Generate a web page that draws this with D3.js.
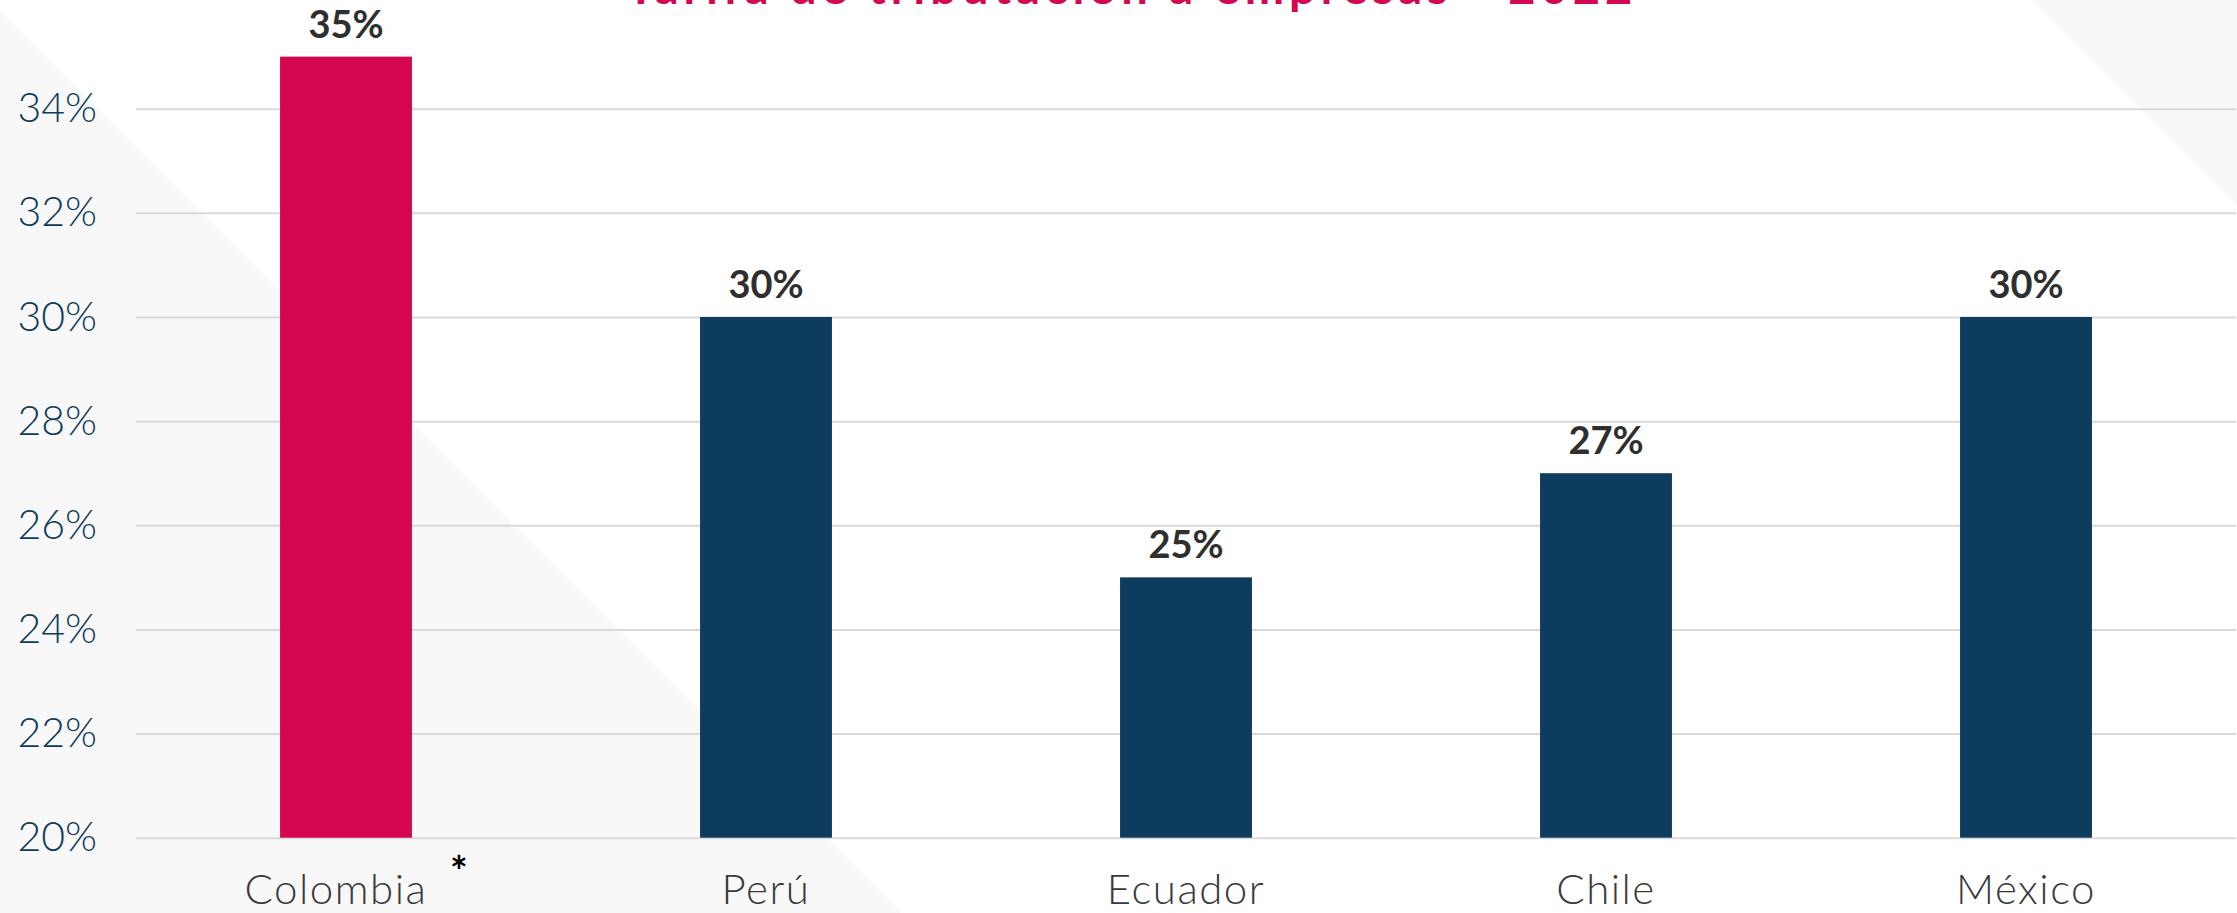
<!DOCTYPE html>
<html>
<head>
<meta charset="utf-8">
<script src="https://cdn.jsdelivr.net/npm/d3@7"></script>
<style>
  html, body { margin: 0; padding: 0; background: #ffffff; }
  svg { display: block; }
</style>
</head>
<body>
<svg id="chart" width="2237" height="913"></svg>
<script>
const titleText = 'Tarifa de tributación a empresas - 2022'
const countries = ['Colombia', 'Perú', 'Ecuador', 'Chile', 'México']
const rates = [35, 30, 25, 27, 30]
const highlighted = ['Colombia']
const yTicks = [20, 22, 24, 26, 28, 30, 32, 34]

const data = countries.map((c, i) => ({ country: c, rate: rates[i] }))

const svg = d3.select('#chart')
const W = 2237
const H = 913

// background diagonals
svg.append('path')
  .attr('d', `M0,12 L${H - 12},${H} L0,${H} Z`)
  .attr('fill', '#f8f8f8')
svg.append('path')
  .attr('d', `M2032,0 L${W},${W - 2032} L${W},0 Z`)
  .attr('fill', '#f8f8f8')

const margin = { left: 136, right: 1 }
const x = d3.scaleBand()
  .domain(countries)
  .range([margin.left, W - margin.right])
  .paddingInner(0.686)
  .paddingOuter(0.343)

const y = d3.scaleLinear()
  .domain([20, 34])
  .range([837.7, 108.7])

//* * grid + y labels
const yAxis = svg.append('g')
  .attr('transform', `translate(${margin.left},0)`)
  .call(d3.axisLeft(y)
    .tickValues(yTicks)
    .tickSize(-(W - margin.left - margin.right))
    .tickPadding(39)
    .tickFormat(d => d + '%'))
yAxis.select('.domain').remove()
yAxis.selectAll('line')
  .attr('stroke', '#d9d9d9')
  .attr('stroke-width', 2)
yAxis.selectAll('text')
  .attr('fill', '#0e3c5e')
  .style('font-family', 'Lato, sans-serif')
  .style('font-weight', 300)
  .style('font-size', '41px')

//* * bars
svg.selectAll('.bar')
  .data(data)
  .enter().append('rect')
  .attr('class', 'bar')
  .attr('x', d => x(d.country))
  .attr('y', d => y(d.rate))
  .attr('width', x.bandwidth())
  .attr('height', d => y(20) - y(d.rate))
  .attr('fill', d => highlighted.includes(d.country) ? '#d50750' : '#0e3c5e')

//* * value labels
svg.selectAll('.val')
  .data(data)
  .enter().append('text')
  .attr('class', 'val')
  .attr('x', d => x(d.country) + x.bandwidth() / 2)
  .attr('y', d => y(d.rate) - 19)
  .attr('text-anchor', 'middle')
  .attr('fill', '#2f2f2f')
  .style('font-family', 'Lato, sans-serif')
  .style('font-weight', 'bold')
  .style('font-size', '38px')
  .text(d => d.rate + '%')

//* * category labels (the footnoted one sits a bit left, as label + mark are centred together)
svg.selectAll('.cat')
  .data(data)
  .enter().append('text')
  .attr('class', 'cat')
  .attr('x', d => x(d.country) + x.bandwidth() / 2 - (highlighted.includes(d.country) ? 10 : 0))
  .attr('y', 904)
  .attr('text-anchor', 'middle')
  .attr('fill', '#3a3a3a')
  .style('font-family', 'Lato, sans-serif')
  .style('font-weight', 300)
  .style('font-size', '42px')
  .style('letter-spacing', '1.5px')
  .text(d => d.country)

// footnote mark next to Colombia
svg.append('text')
  .attr('x', x('Colombia') + x.bandwidth() / 2 + 113)
  .attr('y', 887)
  .attr('text-anchor', 'middle')
  .attr('fill', '#000')
  .style('font-family', 'Lato, sans-serif')
  .style('font-weight', 'bold')
  .style('font-size', '42px')
  .text('*')

//* * title (cut by the top edge)
svg.append('text')
  .attr('x', 1132)
  .attr('y', 4)
  .attr('text-anchor', 'middle')
  .attr('fill', '#d50750')
  .style('font-family', 'Lato, sans-serif')
  .style('font-weight', 'bold')
  .style('font-size', '47px')
  .style('letter-spacing', '5px')
  .text(titleText)
</script>
</body>
</html>
